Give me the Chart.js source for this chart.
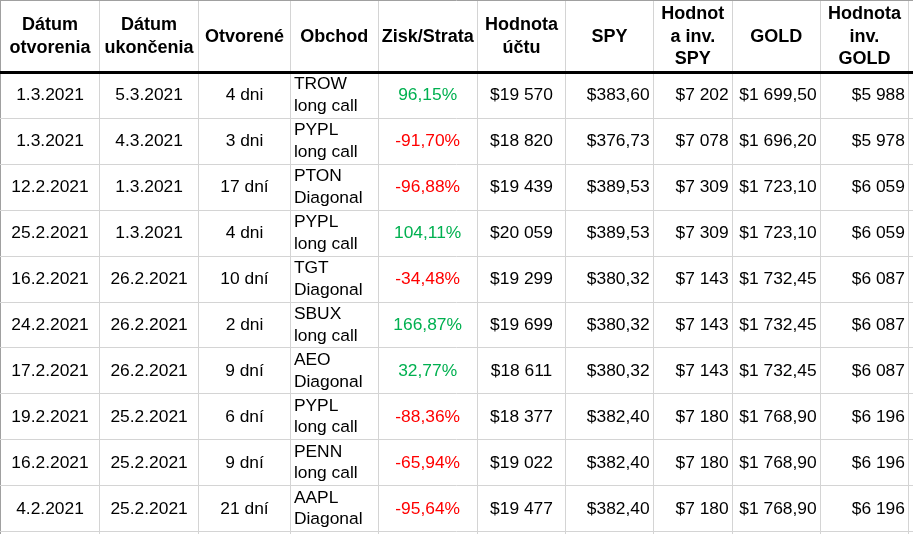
<!DOCTYPE html>
<html>
<head>
<meta charset="utf-8">
<title>Obchody</title>
<script src="https://cdn.jsdelivr.net/npm/chart.js@4.4.1/dist/chart.umd.min.js"></script>
<style>
  html, body { margin: 0; padding: 0; background: #fff; }
  canvas { display: block; }
</style>
</head>
<body>
<canvas id="tbl" width="913" height="534"></canvas>
<script>
// table contents
var headers = [
  ['Dátum', 'otvorenia'],
  ['Dátum', 'ukončenia'],
  ['Otvorené'],
  ['Obchod'],
  ['Zisk/Strata'],
  ['Hodnota', 'účtu'],
  ['SPY'],
  ['Hodnot', 'a inv.', 'SPY'],
  ['GOLD'],
  ['Hodnota', 'inv.', 'GOLD']
];
var openDates = ['1.3.2021', '1.3.2021', '12.2.2021', '25.2.2021', '16.2.2021', '24.2.2021', '17.2.2021', '19.2.2021', '16.2.2021', '4.2.2021'];
var closeDates = ['5.3.2021', '4.3.2021', '1.3.2021', '1.3.2021', '26.2.2021', '26.2.2021', '26.2.2021', '25.2.2021', '25.2.2021', '25.2.2021'];
var daysOpen = ['4 dni', '3 dni', '17 dní', '4 dni', '10 dní', '2 dni', '9 dní', '6 dní', '9 dní', '21 dní'];
var tickers = ['TROW', 'PYPL', 'PTON', 'PYPL', 'TGT', 'SBUX', 'AEO', 'PYPL', 'PENN', 'AAPL'];
var strategies = ['long call', 'long call', 'Diagonal', 'long call', 'Diagonal', 'long call', 'Diagonal', 'long call', 'long call', 'Diagonal'];
var profitLoss = [96.15, -91.70, -96.88, 104.11, -34.48, 166.87, 32.77, -88.36, -65.94, -95.64];
var accountValue = [19570, 18820, 19439, 20059, 19299, 19699, 18611, 18377, 19022, 19477];
var spyPrice = [383.60, 376.73, 389.53, 389.53, 380.32, 380.32, 380.32, 382.40, 382.40, 382.40];
var spyInvValue = [7202, 7078, 7309, 7309, 7143, 7143, 7143, 7180, 7180, 7180];
var goldPrice = [1699.50, 1696.20, 1723.10, 1723.10, 1732.45, 1732.45, 1732.45, 1768.90, 1768.90, 1768.90];
var goldInvValue = [5988, 5978, 6059, 6059, 6087, 6087, 6087, 6196, 6196, 6196];

// layout: column edges on the x scale, row edges on the y scale (rows are 1 unit)
var colEdges = [0.5, 99.5, 198.7, 290.3, 378, 477.3, 565.7, 653.3, 732.3, 820.3, 908.5];
var HEADER_TOP = -1.556;
var rowEdges = [HEADER_TOP];
for (var r = 0; r <= openDates.length; r++) rowEdges.push(r);

var FONT = "'Liberation Sans', Arial, sans-serif";
var GREEN = '#00b050';
var RED = '#ff0000';

function groupThousands(s) {
  return s.replace(/\B(?=(\d{3})+(?!\d))/g, ' ');
}
function money0(v) {
  return '$' + groupThousands(String(Math.round(v)));
}
function money2(v) {
  var parts = v.toFixed(2).split('.');
  return '$' + groupThousands(parts[0]) + ',' + parts[1];
}
function pct(v) {
  return v.toFixed(2).replace('.', ',') + '%';
}

var columns = [
  { align: 'center', text: function (i) { return [openDates[i]]; } },
  { align: 'center', text: function (i) { return [closeDates[i]]; } },
  { align: 'center', text: function (i) { return [daysOpen[i]]; } },
  { align: 'left', text: function (i) { return [tickers[i], strategies[i]]; } },
  { align: 'center', text: function (i) { return [pct(profitLoss[i])]; },
    color: function (i) { return profitLoss[i] < 0 ? RED : GREEN; } },
  { align: 'center', text: function (i) { return [money0(accountValue[i])]; } },
  { align: 'right', text: function (i) { return [money2(spyPrice[i])]; } },
  { align: 'right', text: function (i) { return [money0(spyInvValue[i])]; } },
  { align: 'right', text: function (i) { return [money2(goldPrice[i])]; } },
  { align: 'right', text: function (i) { return [money0(goldInvValue[i])]; } }
];

function drawCell(ctx, left, right, top, bottom, lines, align, lineH) {
  var pad = 3.6;
  var cx = align === 'left' ? left + pad : align === 'right' ? right - pad : (left + right) / 2;
  var cy = (top + bottom) / 2;
  ctx.textAlign = align;
  ctx.textBaseline = 'middle';
  lines.forEach(function (line, k) {
    ctx.fillText(line, cx, cy + (k - (lines.length - 1) / 2) * lineH);
  });
}

var cellText = {
  id: 'cellText',
  afterDraw: function (chart) {
    var ctx = chart.ctx;
    var xs = chart.scales.x;
    var ys = chart.scales.y;
    ctx.save();
    ctx.fillStyle = '#000';
    ctx.font = 'bold 18px ' + FONT;
    headers.forEach(function (lines, c) {
      drawCell(ctx, xs.getPixelForValue(colEdges[c]), xs.getPixelForValue(colEdges[c + 1]),
        ys.getPixelForValue(HEADER_TOP), ys.getPixelForValue(0), lines, 'center', 22.5);
    });
    ctx.font = '17.4px ' + FONT;
    for (var i = 0; i < openDates.length; i++) {
      columns.forEach(function (col, c) {
        ctx.fillStyle = col.color ? col.color(i) : '#000';
        drawCell(ctx, xs.getPixelForValue(colEdges[c]), xs.getPixelForValue(colEdges[c + 1]),
          ys.getPixelForValue(i), ys.getPixelForValue(i + 1), col.text(i), col.align, 21.5);
      });
    }
    ctx.restore();
  }
};

new Chart(document.getElementById('tbl'), {
  type: 'scatter',
  data: { datasets: [] },
  options: {
    responsive: false,
    animation: false,
    events: [],
    layout: { padding: 0 },
    plugins: { legend: { display: false }, tooltip: { enabled: false } },
    scales: {
      x: {
        type: 'linear',
        min: 0,
        max: 913,
        ticks: { display: false },
        border: { display: false },
        grid: {
          drawTicks: false,
          lineWidth: 1,
          color: function (c) { return c.index === 0 ? '#a0a0a0' : '#d4d4d4'; }
        },
        afterBuildTicks: function (s) {
          s.ticks = colEdges.map(function (v) { return { value: v }; });
        }
      },
      y: {
        type: 'linear',
        reverse: true,
        min: -1.573,
        max: 10.048,
        ticks: { display: false },
        border: { display: false },
        grid: {
          drawTicks: false,
          lineWidth: function (c) { return c.tick && c.tick.value === 0 ? 3 : 1; },
          color: function (c) {
            if (c.tick && c.tick.value === 0) return '#000';
            return c.index === 0 ? '#a0a0a0' : '#d4d4d4';
          }
        },
        afterBuildTicks: function (s) {
          s.ticks = rowEdges.map(function (v) { return { value: v }; });
        }
      }
    }
  },
  plugins: [cellText]
});
</script>
</body>
</html>
